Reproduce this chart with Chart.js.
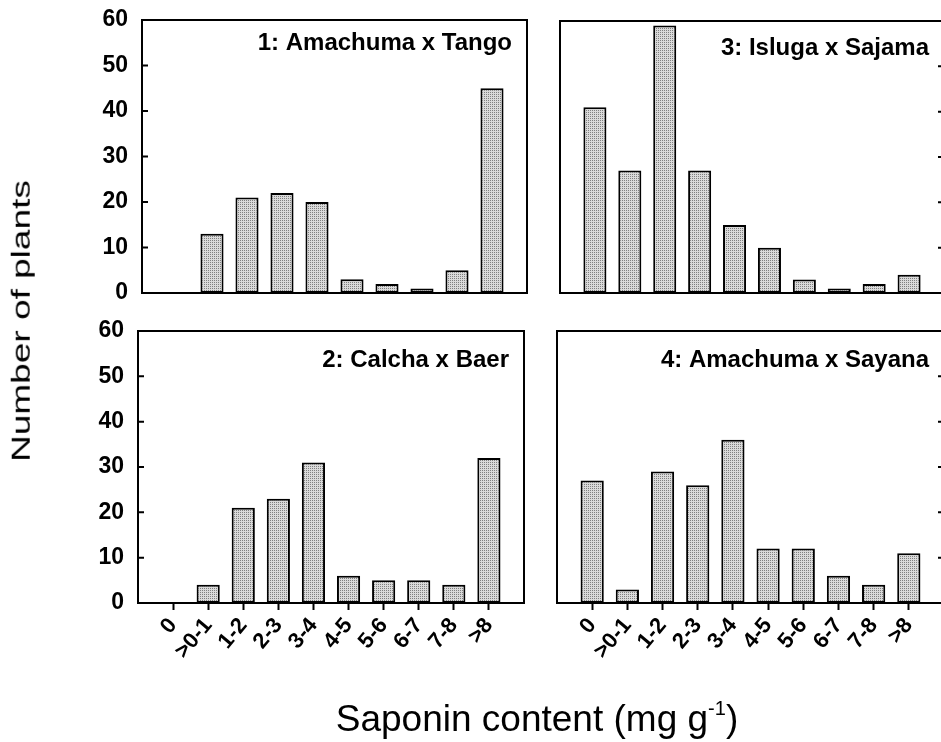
<!DOCTYPE html>
<html>
<head>
<meta charset="utf-8">
<script src="https://cdn.jsdelivr.net/npm/chart.js@4"></script>
<style>
  body { margin: 0; width: 941px; height: 742px; overflow: hidden; background: #fff; position: relative; font-family: "Liberation Sans", Arial, sans-serif; }
  canvas { position: absolute; }
  #ylab { position: absolute; left: 22px; top: 321px; font-size: 37px; white-space: nowrap;
          transform: translate(-50%, -50%) rotate(-90deg) scale(1, 0.68); }
  #xlab { position: absolute; left: 537px; top: 697px; font-size: 37px; white-space: nowrap; transform: translateX(-50%); }
  #xlab sup { font-size: 20px; vertical-align: 16px; }
</style>
</head>
<body>
<canvas id="p1" width="540" height="312" style="left:0;top:0"></canvas>
<canvas id="p3" width="420" height="312" style="left:540px;top:0"></canvas>
<canvas id="p2" width="540" height="430" style="left:0;top:312px"></canvas>
<canvas id="p4" width="420" height="430" style="left:540px;top:312px"></canvas>
<div id="ylab">Number of plants</div>
<div id="xlab">Saponin content (mg g<sup>-1</sup>)</div>
<script>
// saponin classes and plant counts per cross
const categories = ['0', '>0-1', '1-2', '2-3', '3-4', '4-5', '5-6', '6-7', '7-8', '>8'];
const tangoCounts = [0, 13, 21, 22, 20, 3, 2, 1, 5, 45];
const baerCounts = [0, 4, 21, 23, 31, 6, 5, 5, 4, 32];
const sajamaCounts = [41, 27, 59, 27, 15, 10, 3, 1, 2, 4];
const sayanaCounts = [27, 3, 29, 26, 36, 12, 12, 6, 4, 11];
const panelTitles = ['1: Amachuma x Tango', '2: Calcha x Baer', '3: Isluga x Sajama', '4: Amachuma x Sayana'];
const yTicks = [0, 10, 20, 30, 40, 50, 60];

Chart.defaults.font.family = '"Liberation Sans", Arial, sans-serif';
Chart.defaults.color = '#000';

// stippled grey fill like the printed figure
const pc = document.createElement('canvas');
pc.width = 2; pc.height = 2;
const pctx = pc.getContext('2d');
pctx.fillStyle = '#dadada'; pctx.fillRect(0, 0, 2, 2);
pctx.fillStyle = '#808080'; pctx.fillRect(0, 0, 1, 1);
const stipple = pctx.createPattern(pc, 'repeat');

const framePlugin = {
  id: 'frame',
  afterDatasetsDraw(chart, args, opts) {
    const { ctx, chartArea: a } = chart;
    const y = chart.scales.y;
    ctx.save();
    ctx.strokeStyle = '#000';
    ctx.lineWidth = 2;
    ctx.strokeRect(a.left, a.top, a.right - a.left, a.bottom - a.top);
    ctx.beginPath();
    yTicks.forEach(v => {
      const py = y.getPixelForValue(v);
      if (opts.side === 'left') { ctx.moveTo(a.left, py); ctx.lineTo(a.left + 6, py); }
      else { ctx.moveTo(a.right - 6, py); ctx.lineTo(a.right, py); }
    });
    ctx.stroke();
    ctx.font = 'bold 24px "Liberation Sans", Arial, sans-serif';
    ctx.fillStyle = '#000';
    ctx.textAlign = 'right';
    ctx.textBaseline = 'alphabetic';
    ctx.fillText(opts.title, a.right - 15, a.top + opts.titleDy);
    ctx.restore();
  }
};

function makePanel(id, counts, title, side, bottom, padding, titleDy) {
  new Chart(document.getElementById(id), {
    type: 'bar',
    data: {
      datasets: [{
        data: counts.map((v, i) => ({ x: i, y: v })),
        backgroundColor: stipple,
        borderColor: '#000',
        borderWidth: 2,
        borderSkipped: false,
        barPercentage: 0.66,
        categoryPercentage: 1
      }]
    },
    options: {
      responsive: false,
      animation: false,
      layout: { padding: padding },
      plugins: {
        legend: { display: false },
        tooltip: { enabled: false },
        frame: { side: side, title: title, titleDy: titleDy }
      },
      scales: {
        x: {
          type: 'linear',
          min: -1,
          max: 10,
          offset: false,
          display: bottom,
          afterBuildTicks: s => { s.ticks = categories.map((c, i) => ({ value: i })); },
          afterFit: s => { s.height = bottom ? 139 : 0; s.paddingLeft = 0; s.paddingRight = 0; },
          border: { display: false },
          grid: { offset: false, drawOnChartArea: false, drawTicks: true, tickLength: 7, tickWidth: 2, tickColor: '#000' },
          ticks: {
            autoSkip: false,
            minRotation: 50,
            maxRotation: 50,
            padding: 3,
            font: { size: 22, weight: 'bold' },
            callback: v => categories[v]
          }
        },
        y: {
          min: 0,
          max: 60,
          display: side === 'left',
          afterBuildTicks: s => { s.ticks = yTicks.map(v => ({ value: v })); },
          afterFit: s => { s.width = side === 'left' ? padding.yw : 0; s.paddingTop = 0; s.paddingBottom = 0; },
          border: { display: false },
          grid: { display: false, drawTicks: false },
          ticks: { autoSkip: false, padding: 14, font: { size: 23, weight: 'bold' } }
        }
      }
    },
    plugins: [framePlugin]
  });
}

makePanel('p1', tangoCounts, panelTitles[0], 'left', false, { left: 0, top: 20, right: 13, bottom: 19, yw: 142 }, 30);
makePanel('p3', sajamaCounts, panelTitles[2], 'right', false, { left: 20, top: 21, right: 16, bottom: 19, yw: 0 }, 34);
makePanel('p2', baerCounts, panelTitles[1], 'left', true, { left: 0, top: 19, right: 16, bottom: 0, yw: 138 }, 36);
makePanel('p4', sayanaCounts, panelTitles[3], 'right', true, { left: 17, top: 19, right: 16, bottom: 0, yw: 0 }, 36);
</script>
</body>
</html>
